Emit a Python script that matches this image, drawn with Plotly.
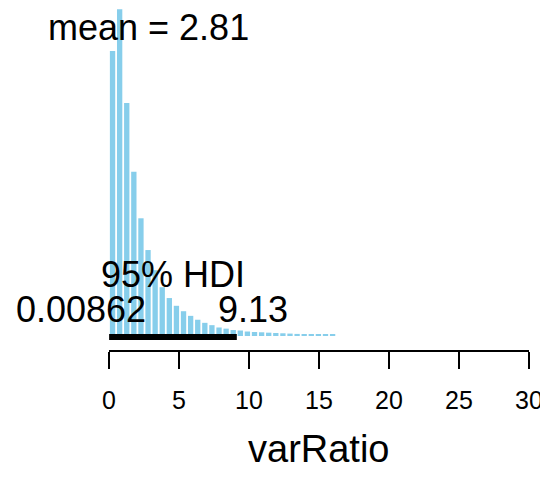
import numpy as np
import plotly.graph_objects as go

# posterior histogram of varRatio (density per bin)
bin_start = 0.0
bin_width = 0.507
density = [0.368, 0.422, 0.301, 0.212, 0.152, 0.111, 0.085, 0.063,
           0.049, 0.039, 0.032, 0.026, 0.021, 0.017, 0.014, 0.011,
           0.0095, 0.0077, 0.0071, 0.0058, 0.0052, 0.0048, 0.0043, 0.0039,
           0.0035, 0.0031, 0.0027, 0.0023, 0.0021, 0.0018, 0.0015, 0.0013]

mean_val = 2.81
hdi_low = 0.00862
hdi_high = 9.13
x_ticks = [0, 5, 10, 15, 20, 25, 30]

centers = bin_start + bin_width * (np.arange(len(density)) + 0.5)

FONT = "Liberation Sans, Arial, sans-serif"
TXT = dict(size=36, color="black", family=FONT)

fig = go.Figure()
fig.add_trace(go.Bar(x=centers, y=density, width=bin_width * 0.75,
                     marker_color="#87CEEB", marker_line_width=0,
                     showlegend=False, hoverinfo="skip"))

# HDI bar along the baseline
fig.add_shape(type="line", x0=hdi_low, x1=hdi_high, y0=-0.0012, y1=-0.0012,
              xref="x", yref="y", line=dict(color="black", width=6))

fig.add_annotation(x=mean_val, y=0.399, text="mean = 2.81", showarrow=False,
                   font=TXT, xanchor="center", yanchor="middle")
fig.add_annotation(x=(hdi_low + hdi_high) / 2, y=0.0788, text="95% HDI",
                   showarrow=False, font=TXT, xanchor="center", yanchor="middle")
fig.add_annotation(x=hdi_low, y=0.0336, text="0.00862", showarrow=False,
                   font=TXT, xanchor="center", yanchor="middle", xshift=-28)
fig.add_annotation(x=hdi_high, y=0.0336, text="9.13", showarrow=False,
                   font=TXT, xanchor="center", yanchor="middle", xshift=16)

# x axis title, placed by hand below the tick labels
fig.add_annotation(x=0.5, y=0, xref="paper", yref="paper", text="varRatio",
                   showarrow=False, font=dict(size=38, color="black", family=FONT),
                   xanchor="center", yanchor="middle", yshift=-99, borderpad=0)

# page body has an 8px margin, so the figure is a bit smaller than the window
fig.update_layout(
    width=540, height=463,
    margin=dict(l=101, r=19, t=0, b=121),
    plot_bgcolor="white", paper_bgcolor="white",
    font=dict(family=FONT, color="black"),
)
fig.update_xaxes(range=[0, 30], tickvals=x_ticks, showline=True,
                 linecolor="black", linewidth=1.5, ticks="outside",
                 ticklen=17, tickwidth=1.5, tickcolor="black",
                 tickfont=dict(size=25), ticklabelstandoff=10,
                 ticklabeloverflow="allow", automargin=False,
                 showgrid=False, zeroline=False)
fig.update_yaxes(range=[-0.01808, 0.42355], visible=False, automargin=False)

fig.write_html("out.html")
